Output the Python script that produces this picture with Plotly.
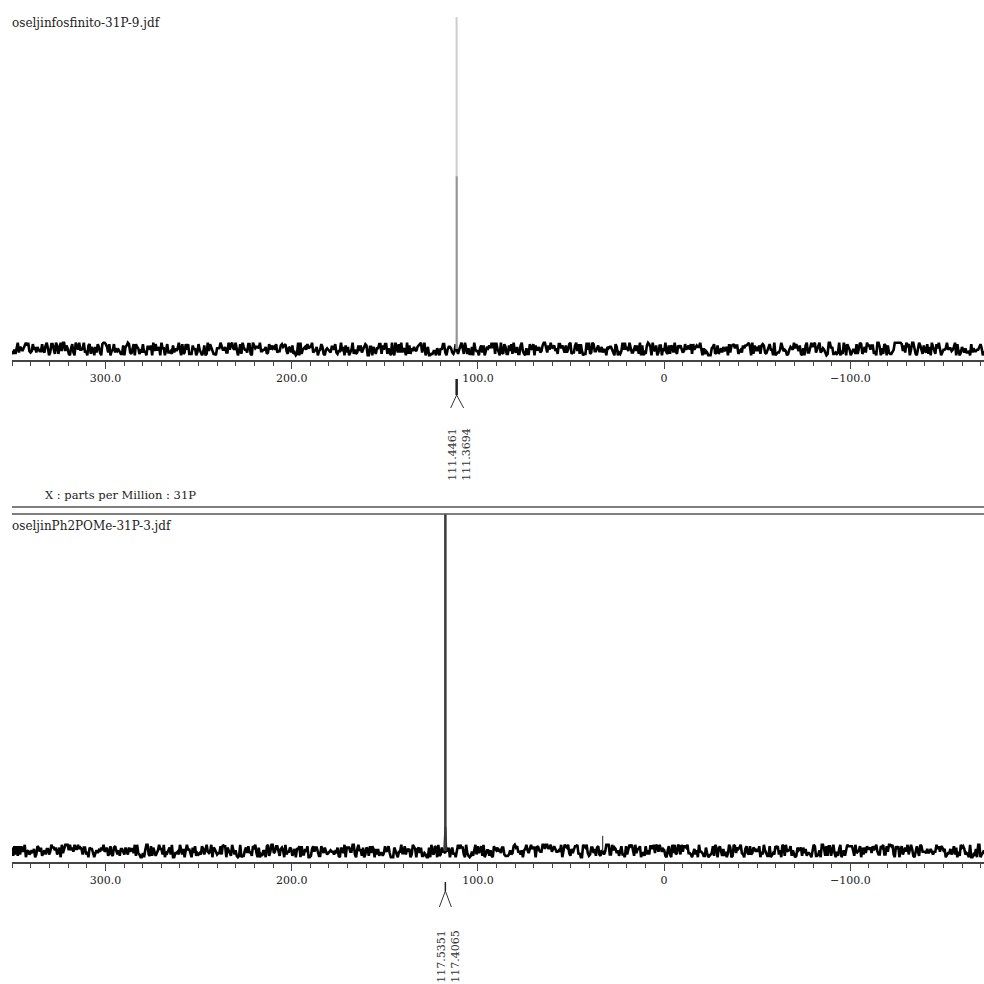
import numpy as np
import plotly.graph_objects as go

# ---------------- data ----------------
PPM_LEFT, PPM_RIGHT = 350.2, -171.8
TICK_VALS = [300, 200, 100, 0, -100]
TICK_TEXT = ["300.0", "200.0", "100.0", "0", "\u2212100.0"]

TOP_TITLE = "oseljinfosfinito-31P-9.jdf"
BOTTOM_TITLE = "oseljinPh2POMe-31P-3.jdf"
AXIS_TITLE = "X : parts per Million : 31P"

TOP_PEAK_PPM = [111.4461, 111.3694]
TOP_PEAK_HEIGHT = [100.0, 52.0]

BOTTOM_PEAK_PPM = [117.5351, 117.4065]
BOTTOM_PEAK_HEIGHT = [112.0, 108.0]
BOTTOM_BASE_PPM = [118.3, 117.7, 117.25, 116.7]
BOTTOM_BASE_HEIGHT = [0.0, 7.0, 7.0, 0.0]
BOTTOM_MINOR_PPM = [33.0]
BOTTOM_MINOR_HEIGHT = [4.5]

# baseline noise samples (digits 0-9, relative noise level, left -> right)
TOP_NOISE = (
    "314159265358979323846264338327950288419716939937510582097494"
    "459230781640628620899862803482534211706798214808651328230664"
    "709384460955058223172535940812848111745028410270193852110555"
    "964462294895493038196442881097566593344612847564823378678316"
    "527120190914564856692346034861045432664821339360726024914127"
    "372458700660631558817488152092096282925409171536436789259036"
    "001133053054882046652138414695194151160943305727036575959195"
    "309218611738193261179310511854807446237996274956735188575272"
    "489122793818301194912983367336244065664308602139494639522473"
    "719070217986094370277053921717629317675238467481846766940513"
    "200056812714526356082778577134275778960917363717872146844090"
    "122495343014654958537105079227968925892354201995611212902196"
    "086403441815981362977477130996051870721134999999837297804995"
    "105973173281609631859502445945534690830264252230825334468503"
)
BOTTOM_NOISE = (
    "718281828459045235360287471352662497757247093699959574966967"
    "627724076630353547594571382178525166427427466391932003059921"
    "817413596629043572900334295260595630738132328627943490763233"
    "829880753195251019011573834187930702154089149934884167509244"
    "761460668082264800168477411853742345442437107539077744992069"
    "551702761838606261331384583000752044933826560297606737113200"
    "709328709127443747047230696977209310141692836819025515108657"
    "463772111252389784425056953696770785449969967946864454905987"
    "931636889230098793127736178215424999229576351482208269895193"
    "668033182528869398496465105820939239829488793320362509443117"
    "301238197068416140397019837679320683282376464804295311802328"
    "782509819455815301756717361332069811250996181881593041690351"
    "598888519345807273866738589422879228499892086805825749279610"
    "484198444363463244968487560233624827041978623209002160990235"
)
TOP_NOISE_SCALE = 0.42
BOTTOM_NOISE_SCALE = 0.41

# ---------------- figure ----------------
W = H = 984


def py(pix):
    return 1 - pix / H


fig = go.Figure()

# top spectrum
tn = np.array([int(c) for c in TOP_NOISE], dtype=float)
tx = np.linspace(PPM_LEFT, PPM_RIGHT, len(tn))
fig.add_trace(go.Scatter(x=tx, y=(tn - 4.5) * TOP_NOISE_SCALE, mode="lines",
                         line=dict(color="#000000", width=2.6),
                         xaxis="x", yaxis="y", hoverinfo="skip"))
top_colors = ["#cdcdcd", "#9c9292"]
for p, h, c in zip(TOP_PEAK_PPM, TOP_PEAK_HEIGHT, top_colors):
    fig.add_trace(go.Scatter(x=[p, p], y=[0, h], mode="lines",
                             line=dict(color=c, width=2),
                             xaxis="x", yaxis="y", hoverinfo="skip"))

# bottom spectrum
bn = np.array([int(c) for c in BOTTOM_NOISE], dtype=float)
bx = np.linspace(PPM_LEFT, PPM_RIGHT, len(bn))
fig.add_trace(go.Scatter(x=bx, y=(bn - 4.5) * BOTTOM_NOISE_SCALE, mode="lines",
                         line=dict(color="#000000", width=2.6),
                         xaxis="x2", yaxis="y2", hoverinfo="skip"))
fig.add_trace(go.Scatter(x=BOTTOM_BASE_PPM, y=BOTTOM_BASE_HEIGHT, mode="lines",
                         line=dict(color="#222222", width=1.2),
                         xaxis="x2", yaxis="y2", hoverinfo="skip"))
for p, h in zip(BOTTOM_PEAK_PPM, BOTTOM_PEAK_HEIGHT):
    fig.add_trace(go.Scatter(x=[p, p], y=[0, h], mode="lines",
                             line=dict(color="#3a3a3a", width=2),
                             xaxis="x2", yaxis="y2", hoverinfo="skip"))
for p, h in zip(BOTTOM_MINOR_PPM, BOTTOM_MINOR_HEIGHT):
    fig.add_trace(go.Scatter(x=[p, p], y=[0, h], mode="lines",
                             line=dict(color="#444444", width=1.2),
                             xaxis="x2", yaxis="y2", hoverinfo="skip"))

FONT = "DejaVu Serif"
xcommon = dict(range=[PPM_LEFT, PPM_RIGHT], domain=[12 / W, 1],
               showline=True, linecolor="#444444", linewidth=1.5,
               ticks="outside", ticklen=7, tickwidth=1, tickcolor="#444444",
               tickvals=TICK_VALS, ticktext=TICK_TEXT,
               tickfont=dict(family=FONT, size=11, color="#222222"),
               showgrid=False, zeroline=False, fixedrange=True,
               minor=dict(dtick=10, tick0=0, ticks="outside", ticklen=4,
                          tickwidth=1, tickcolor="#444444", showgrid=False))
ycommon = dict(visible=False, showgrid=False, zeroline=False, fixedrange=True)

fig.update_layout(
    width=W, height=H, margin=dict(l=0, r=0, t=0, b=0),
    paper_bgcolor="white", plot_bgcolor="white", showlegend=False,
    xaxis=dict(anchor="y", **xcommon),
    yaxis=dict(anchor="x", domain=[py(360), py(10)], range=[-3.31, 102.1], **ycommon),
    xaxis2=dict(anchor="y2", **xcommon),
    yaxis2=dict(anchor="x2", domain=[py(862), py(514)], range=[-3.26, 100.0], **ycommon),
)

# separator double line
for yy in (507, 514):
    fig.add_shape(type="line", xref="paper", yref="paper", x0=12 / W, x1=1,
                  y0=py(yy), y1=py(yy), line=dict(color="#555555", width=1.5))

# peak markers
top_anchor = float(np.mean(TOP_PEAK_PPM))
bot_anchor = float(np.mean(BOTTOM_PEAK_PPM))
marks = [
    ("x", top_anchor, 379, 395, 408, 2.5, -6, 7),
    ("x2", bot_anchor, 882, 891, 907, 1.5, -6, 6),
]
for xr, anc, yb0, yb1, yl, bw, dl, dr in marks:
    fig.add_shape(type="line", xref=xr, xsizemode="pixel", xanchor=anc, x0=0, x1=0,
                  yref="paper", y0=py(yb0), y1=py(yb1), line=dict(color="#222222", width=bw))
    for d in (dl, dr):
        fig.add_shape(type="line", xref=xr, xsizemode="pixel", xanchor=anc, x0=0, x1=d,
                      yref="paper", y0=py(yb1), y1=py(yl), line=dict(color="#333333", width=1))

label_sets = [
    ("x", top_anchor, TOP_PEAK_PPM, [-5, 9], 454),
    ("x2", bot_anchor, BOTTOM_PEAK_PPM, [-4.5, 9.5], 956),
]
for xr, anc, ppms, shifts, yc in label_sets:
    for p, s in zip(ppms, shifts):
        fig.add_annotation(x=anc, xref=xr, xshift=s, y=py(yc), yref="paper",
                           text=f"{p:.4f}", textangle=-90, showarrow=False,
                           xanchor="center", yanchor="middle",
                           font=dict(family=FONT, size=11, color="#333333"))

for txt, x0, yc, fs in [(TOP_TITLE, 10, 23, 12), (AXIS_TITLE, 43, 495, 11.5),
                        (BOTTOM_TITLE, 10, 526, 12)]:
    fig.add_annotation(x=x0 / W, xref="paper", y=py(yc), yref="paper", text=txt,
                       showarrow=False, xanchor="left", yanchor="middle",
                       font=dict(family=FONT, size=fs, color="#222222"))

fig.write_html("out.html",
               config={"displayModeBar": False},
               post_script="document.body.style.margin='0';"
                           "document.body.style.overflow='hidden';")
